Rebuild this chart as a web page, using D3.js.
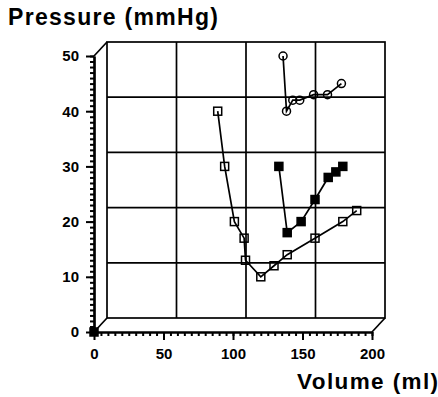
<!DOCTYPE html>
<html>
<head>
<meta charset="utf-8">
<script src="https://cdn.jsdelivr.net/npm/d3@7"></script>
<style>
  html, body { margin: 0; padding: 0; background: #fff; }
  svg { display: block; font-family: "Liberation Sans", Arial, Helvetica, sans-serif; }
  .tick text { font-weight: bold; font-size: 15px; fill: #000; }
</style>
</head>
<body>
<svg id="chart" width="438" height="397"></svg>
<script>
// values: volume (ml) vs pressure (mmHg)
const openVol   = [89, 94, 101, 108, 109, 120, 129.5, 139, 159, 179, 189];
const openPres  = [40, 30, 20, 17, 13, 10, 12, 14, 17, 20, 22];
const filledVol  = [133, 139, 149, 159, 168.5, 174, 179];
const filledPres = [30, 18, 20, 24, 28, 29, 30];
const circleVol  = [136, 138.5, 143, 148, 158, 168, 178];
const circlePres = [50, 40, 42, 42, 43, 43, 45];
const originVol = [0], originPres = [0];

const xMajor = [0, 50, 100, 150, 200];
const yMajor = [0, 10, 20, 30, 40, 50];

const svg = d3.select("#chart");
const x = d3.scaleLinear().domain([0, 200]).range([94, 372]);
const y = d3.scaleLinear().domain([0, 50]).range([332, 56]);
const DX = 13, DY = -14; // depth offset of the back panel

const pts = (xs, ys) => xs.map((v, i) => ({ v, p: ys[i] }));

// back panel with its grid
const back = svg.append("g").attr("transform", `translate(${DX},${DY})`)
  .attr("stroke", "#000").attr("stroke-width", 1.7).attr("fill", "none");
back.append("rect")
  .attr("x", x(0)).attr("y", y(50))
  .attr("width", x(200) - x(0)).attr("height", y(0) - y(50));
back.selectAll("line.v").data(xMajor.slice(1, -1)).join("line")
  .attr("x1", (d) => x(d)).attr("x2", (d) => x(d)).attr("y1", y(0)).attr("y2", y(50));
back.selectAll("line.h").data(yMajor.slice(1, -1)).join("line")
  .attr("x1", x(0)).attr("x2", x(200)).attr("y1", (d) => y(d)).attr("y2", (d) => y(d));

// depth edges joining the front axes to the back panel
const edges = [[0, 50], [0, 0], [200, 0]];
svg.append("g").selectAll("line").data(edges).join("line")
  .attr("x1", (d) => x(d[0])).attr("y1", (d) => y(d[1]))
  .attr("x2", (d) => x(d[0]) + DX).attr("y2", (d) => y(d[1]) + DY)
  .attr("stroke", "#000").attr("stroke-width", 1.7);

// axes: major ticks with labels, minor ticks without
function styleAxis(g) {
  g.selectAll("path, line").attr("stroke", "#000").attr("stroke-width", 2);
}
svg.append("g").attr("transform", `translate(${x(0)},0)`)
  .call(d3.axisLeft(y).tickValues(d3.range(0, 51, 1)).tickSize(4).tickFormat("").tickSizeOuter(0))
  .call(styleAxis);
svg.append("g").attr("transform", `translate(${x(0)},0)`)
  .call(d3.axisLeft(y).tickValues(yMajor).tickSize(8).tickPadding(7).tickSizeOuter(0))
  .call(styleAxis);
svg.append("g").attr("transform", `translate(0,${y(0)})`)
  .call(d3.axisBottom(x).tickValues(d3.range(0, 201, 5)).tickSize(4).tickFormat("").tickSizeOuter(0))
  .call(styleAxis);
svg.append("g").attr("transform", `translate(0,${y(0)})`)
  .call(d3.axisBottom(x).tickValues(xMajor).tickSize(8).tickPadding(8).tickSizeOuter(0))
  .call(styleAxis);
svg.selectAll(".domain").attr("stroke-width", 2.2);

// series
const line = d3.line().x((d) => x(d.v)).y((d) => y(d.p));
const series = [
  { data: pts(openVol, openPres), shape: "square", fill: "none" },
  { data: pts(filledVol, filledPres), shape: "square", fill: "#000" },
  { data: pts(circleVol, circlePres), shape: "circle", fill: "none" },
  { data: pts(originVol, originPres), shape: "square", fill: "#000" },
];
series.forEach((s) => {
  svg.append("path").datum(s.data).attr("d", line)
    .attr("fill", "none").attr("stroke", "#000").attr("stroke-width", 1.7);
  const g = svg.append("g");
  if (s.shape === "square") {
    g.selectAll("rect").data(s.data).join("rect")
      .attr("x", (d) => x(d.v) - 4).attr("y", (d) => y(d.p) - 4)
      .attr("width", 8).attr("height", 8)
      .attr("fill", s.fill).attr("stroke", "#000").attr("stroke-width", 1.5);
  } else {
    g.selectAll("circle").data(s.data).join("circle")
      .attr("cx", (d) => x(d.v)).attr("cy", (d) => y(d.p)).attr("r", 4)
      .attr("fill", s.fill).attr("stroke", "#000").attr("stroke-width", 1.5);
  }
});

// axis titles
svg.append("text").attr("x", 8).attr("y", 25)
  .attr("font-size", 23).attr("font-weight", "bold").attr("letter-spacing", 1.3)
  .text("Pressure (mmHg)");
svg.append("text").attr("x", 297).attr("y", 389)
  .attr("font-size", 22.5).attr("font-weight", "bold").attr("letter-spacing", 1.4)
  .text("Volume (ml)");
</script>
</body>
</html>
